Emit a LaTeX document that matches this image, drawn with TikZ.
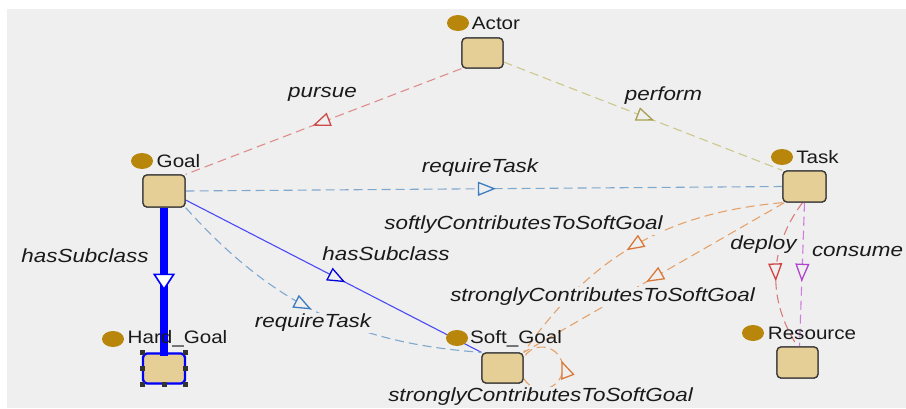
\documentclass[tikz,border=0pt]{standalone}
\usepackage{fontspec}
\setmainfont{Liberation Sans}
\newfontfamily\nodefont[FakeStretch=1.145]{Liberation Sans}
\newfontfamily\edgefont[FakeStretch=1.18]{Liberation Sans}
\usetikzlibrary{arrows.meta,decorations.markings,shapes.geometric}
\definecolor{bgc}{HTML}{EFEFEF}
\definecolor{boxfill}{HTML}{E6CF96}
\definecolor{boxline}{HTML}{3A3A3A}
\definecolor{dotc}{HTML}{B8860B}
\definecolor{pursueL}{HTML}{DE8C8C}
\definecolor{pursueA}{HTML}{CC4A4A}
\definecolor{performL}{HTML}{CCC88E}
\definecolor{performA}{HTML}{A8A050}
\definecolor{reqL}{HTML}{7FA8CE}
\definecolor{reqA}{HTML}{3C7CC0}
\definecolor{orL}{HTML}{E4A26C}
\definecolor{orA}{HTML}{D9783A}
\definecolor{depL}{HTML}{D97A7C}
\definecolor{depA}{HTML}{D04444}
\definecolor{conL}{HTML}{CF7ADF}
\definecolor{conA}{HTML}{B044D0}
\definecolor{subL}{HTML}{4A4AF4}
\definecolor{txt}{HTML}{1A1A1A}
\tikzset{
  box/.style={draw=boxline, fill=boxfill, rounded corners=4pt, line width=1.3pt,
    minimum width=41pt, minimum height=30pt, inner sep=0pt},
  dotn/.style={ellipse, fill=dotc, minimum width=22pt, minimum height=16pt, inner sep=0pt},
  nlabel/.style={font=\nodefont\fontsize{18}{20}\selectfont, inner sep=0pt, text=txt},
  elabel/.style={font=\edgefont\itshape\fontsize{19}{21}\selectfont, inner sep=1pt, fill=bgc, text=txt},
  dashln/.style={line width=1.1pt, dash pattern=on 9pt off 5pt},
  midarr/.style n args={3}{postaction={decorate}, decoration={markings,
    mark=at position #3 with {\arrow{Triangle[open, length=18pt, width=14pt, color=#1, fill=#2, line width=1.3pt]}}}}
}
\begin{document}
\begin{tikzpicture}[x=1pt,y=-1pt]
\useasboundingbox (0,0) rectangle (906,408);
\fill[bgc] (7,9) rectangle (906,408);

% nodes (boxes)
\node[box] (actor) at (482.5,53) {};
\node[box, minimum width=42pt, minimum height=32pt] (goal) at (164,191) {};
\node[box, minimum width=42pt, minimum height=30pt] (hg) at (164,368.5) {};
\node[box] (sg) at (502.5,368) {};
\node[box, minimum width=43pt, minimum height=31pt] (task) at (804.5,186.5) {};
\node[box, minimum height=31pt] (res) at (797.5,362.5) {};

% edges
\draw[dashln, pursueL, midarr={pursueA}{bgc}{0.54}] (actor.south west) -- (goal.north east);
\draw[dashln, performL, midarr={performA}{bgc}{0.54}] ([yshift=-9pt]actor.east) -- (task.north west);
\draw[dashln, reqL, midarr={reqA}{bgc}{0.52}] (goal.east) -- (task.west);
\draw[line width=1.1pt, subL, midarr={blue!85!black}{bgc}{0.54}] ([yshift=-9pt]goal.east) -- (sg.north west);
\draw[dashln, reqL, midarr={reqA}{bgc}{0.48}] (goal.south east) to[bend right=22] (sg.north west);
\draw[dashln, orL, midarr={orA}{bgc}{0.53}] (task.south west) to[bend right=25] (sg.north east);
\draw[dashln, orL, midarr={orA}{bgc}{0.53}] ([xshift=2pt]task.south west) -- (sg.north east);
\draw[dashln, orL, midarr={orA}{bgc}{0.57}] ([yshift=-10.5pt]sg.east) arc[start angle=-150, end angle=150, radius=21pt];
\draw[dashln, depL, midarr={depA}{bgc}{0.55}] ([xshift=-2pt]task.south) to[bend right=35] (res.north);
\draw[dashln, conL, midarr={conA}{bgc}{0.55}] (task.south) -- ([xshift=2pt]res.north);

% redraw boxes on top
\node[box] at (actor) {};
\node[box, minimum width=42pt, minimum height=32pt] at (goal) {};
\node[box] at (sg) {};
\node[box, minimum width=43pt, minimum height=31pt] at (task) {};
\node[box, minimum height=31pt] at (res) {};
\node[box, draw=blue, line width=2.4pt, minimum width=42pt, minimum height=30pt] at (hg) {};
\foreach \a in {north west, north east, south west, south east, west, east, south}
  \fill[black!80] ([shift={(-2.5pt,-2.5pt)}]hg.\a) rectangle ++(5pt,5pt);

% thick hasSubclass
\draw[line width=7.5pt, blue, postaction={decorate}, decoration={markings,
  mark=at position 0.56 with {\arrow{Triangle[open, length=17pt, width=22pt, color=blue, fill=white, line width=1.6pt]}}}]
  (goal.south) -- ([yshift=-3pt]hg.north);

% dots and node labels
\node[dotn] (actor-d) at (458,23) {};
\node[nlabel] (actor-l) at (496,23) {Actor};
\node[dotn] (goal-d) at (142,161) {};
\node[nlabel] (goal-l) at (178.5,161) {Goal};
\node[dotn] (hg-d) at (113,339) {};
\node[nlabel] (hg-l) at (177.5,339) {Hard\_Goal};
\node[dotn] (sg-d) at (457,338) {};
\node[nlabel] (sg-l) at (516,339) {Soft\_Goal};
\node[dotn] (task-d) at (782,157) {};
\node[nlabel] (task-l) at (817.5,157) {Task};
\node[dotn] (res-d) at (753,333) {};
\node[nlabel] (res-l) at (812,333) {Resource};

% edge labels
\node[elabel] (l-pursue) at (322.5,94) {pursue};
\node[elabel] (l-perform) at (663.5,96) {perform};
\node[elabel] (l-req1) at (480,168) {requireTask};
\node[elabel] (l-sub1) at (85,256) {hasSubclass};
\node[elabel] (l-sub2) at (386,254) {hasSubclass};
\node[elabel] (l-req2) at (313,323) {requireTask};
\node[elabel] (l-soft) at (523.5,225) {softlyContributesToSoftGoal};
\node[elabel] (l-strong1) at (602.5,297) {stronglyContributesToSoftGoal};
\node[elabel] (l-strong2) at (540.5,397) {stronglyContributesToSoftGoal};
\node[elabel] (l-deploy) at (763.5,245) {deploy};
\node[elabel] (l-consume) at (857.5,251) {consume};
\end{tikzpicture}
\end{document}
